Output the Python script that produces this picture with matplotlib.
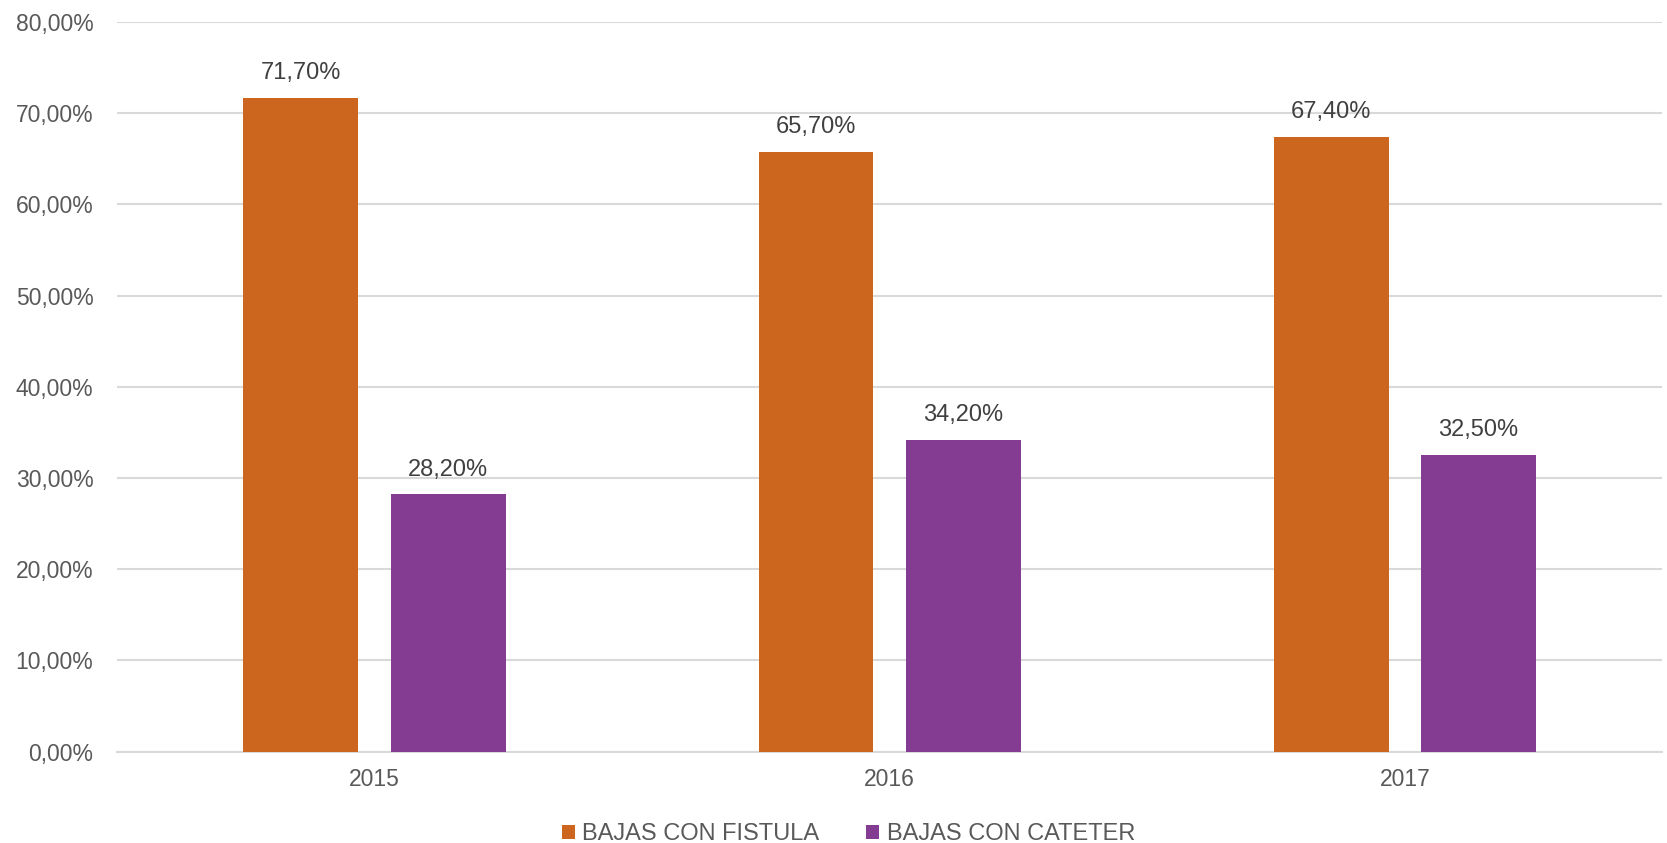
import matplotlib
matplotlib.use('Agg')
import matplotlib.pyplot as plt
import numpy as np
from matplotlib.ticker import FuncFormatter

plt.rcParams['font.family'] = ['Liberation Sans', 'DejaVu Sans']

years = ['2015', '2016', '2017']
fistula = [71.7, 65.7, 67.4]
cateter = [28.2, 34.2, 32.5]
series_names = ['BAJAS CON FISTULA', 'BAJAS CON CATETER']
colors = ['#CC651E', '#843C93']


def pct(v, pos=None):
    return f'{v:.2f}%'.replace('.', ',')


fig = plt.figure(figsize=(16.67, 8.43), dpi=100)
ax = fig.add_axes([0.0702, 0.1084, 0.927, 0.8656])

x = np.arange(len(years))
width = 0.223
offset = 0.143
bars = []
for vals, name, color, sign in zip([fistula, cateter], series_names, colors, [-1, 1]):
    b = ax.bar(x + sign * offset, vals, width, color=color, label=name, zorder=3)
    bars.append(b)
    for rect, v in zip(b, vals):
        ax.annotate(pct(v),
                    (rect.get_x() + rect.get_width() / 2, v),
                    xytext=(0, 10), textcoords='offset points',
                    ha='center', va='bottom', fontsize=17, color='#404040')

ax.set_xlim(-0.5, 2.5)
ax.set_ylim(0, 80)
ax.set_yticks(np.arange(0, 81, 10))
ax.yaxis.set_major_formatter(FuncFormatter(pct))
ax.set_xticks(x)
ax.set_xticklabels(years)
ax.grid(axis='y', color='#D9D9D9', linewidth=1.5, zorder=0)
for s in ['top', 'right', 'left']:
    ax.spines[s].set_visible(False)
ax.spines['bottom'].set_color('#D9D9D9')
ax.spines['bottom'].set_linewidth(1.5)
ax.tick_params(axis='both', length=0, labelsize=16.5, labelcolor='#595959')
ax.tick_params(axis='y', pad=17)
ax.tick_params(axis='x', pad=12)

fig.legend(handles=bars, labels=series_names, loc='center', bbox_to_anchor=(0.509, 0.0105),
           ncol=2, frameon=False, fontsize=17, labelcolor='#595959',
           handlelength=0.55, handleheight=0.55, handletextpad=0.3, columnspacing=2.0)

fig.savefig('out.png', dpi=100)
